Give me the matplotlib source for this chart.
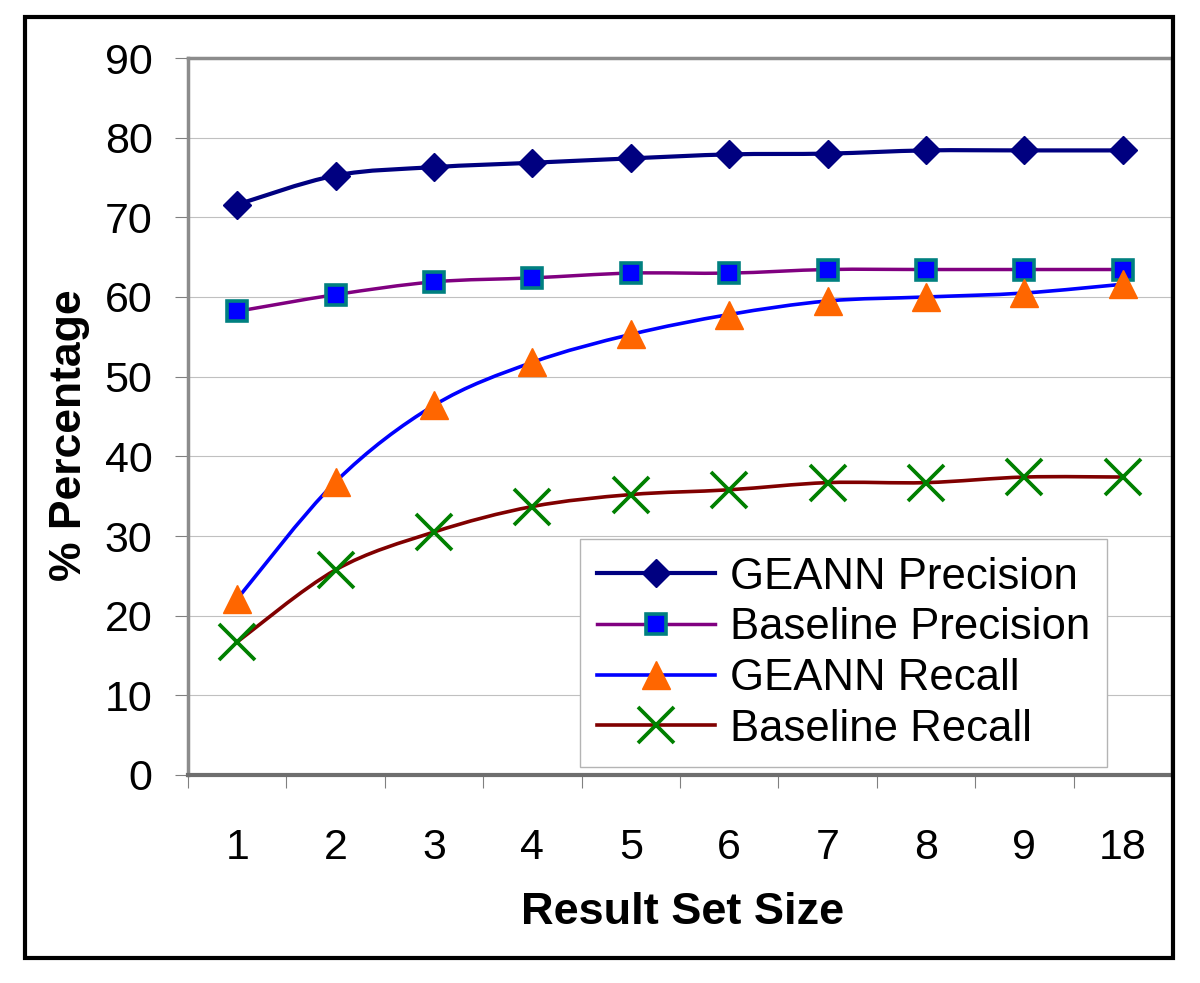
import numpy as np
import matplotlib

matplotlib.use("Agg")
import matplotlib.pyplot as plt
from matplotlib.lines import Line2D
from matplotlib.path import Path
from matplotlib.patches import PathPatch, Rectangle

plt.rcParams["font.family"] = ["Liberation Sans", "DejaVu Sans"]

# values
sizes = ["1", "2", "3", "4", "5", "6", "7", "8", "9", "18"]
geann_precision = [71.6, 75.25, 76.3, 76.85, 77.4, 77.9, 78.0, 78.4, 78.4, 78.4]
baseline_precision = [58.2, 60.3, 61.9, 62.4, 63.0, 63.0, 63.45, 63.45, 63.45, 63.45]
geann_recall = [22.1, 36.8, 46.4, 51.8, 55.3, 57.8, 59.5, 60.0, 60.5, 61.6]
baseline_recall = [16.7, 25.75, 30.5, 33.7, 35.2, 35.8, 36.7, 36.7, 37.4, 37.4]
y_ticks = [0, 10, 20, 30, 40, 50, 60, 70, 80, 90]


def smooth_path(xs, ys):
    # bezier through the points, like the "smoothed line" option of a spreadsheet chart
    p = np.column_stack([xs, ys]).astype(float)
    ext = np.vstack([p[0], p, p[-1]])
    verts = [p[0]]
    codes = [Path.MOVETO]
    for i in range(len(p) - 1):
        c1 = ext[i + 1] + (ext[i + 2] - ext[i]) / 6.0
        c2 = ext[i + 2] - (ext[i + 3] - ext[i + 1]) / 6.0
        verts += [c1, c2, p[i + 1]]
        codes += [Path.CURVE4] * 3
    return Path(verts, codes)


series = [
    ("GEANN Precision", geann_precision,
     dict(color="#000080", lw=3.0),
     dict(marker="D", ms=14.5, mfc="#000080", mec="#000080", mew=1)),
    ("Baseline Precision", baseline_precision,
     dict(color="#800080", lw=2.5),
     dict(marker="s", ms=15, mfc="#0000FF", mec="#008080", mew=2.6)),
    ("GEANN Recall", geann_recall,
     dict(color="#0000FF", lw=2.6),
     dict(marker="^", ms=20.5, mfc="#FF6600", mec="#FF6600", mew=1)),
    ("Baseline Recall", baseline_recall,
     dict(color="#800000", lw=2.6),
     dict(marker="x", ms=25.5, mfc="#008000", mec="#008000", mew=2.7)),
]

fig = plt.figure(figsize=(12, 9.83), dpi=100)
ax = fig.add_axes([188 / 1200, 1 - 775 / 983, 984 / 1200, 717 / 983])

x = np.arange(len(sizes))
handles = []
for name, vals, lstyle, mstyle in series:
    ax.add_patch(PathPatch(smooth_path(x, vals), fill=False, edgecolor=lstyle["color"],
                           lw=lstyle["lw"], capstyle="round", joinstyle="round", zorder=3))
    ax.plot(x, vals, linestyle="none", zorder=4, **mstyle)
    handles.append(Line2D([], [], color=lstyle["color"], lw=lstyle["lw"], **mstyle))

ax.set_xlim(-0.5, len(sizes) - 0.5)
ax.set_ylim(0, 90)
ax.set_yticks(y_ticks)
ax.set_xticks(x)
ax.set_xticklabels(sizes)
ax.set_xticks(np.arange(len(sizes) + 1) - 0.5, minor=True)
ax.grid(axis="y", color="#c0c0c0", lw=0.8)
ax.set_axisbelow(True)

ax.tick_params(axis="y", which="major", labelsize=31, length=9.5, width=0.8,
               color="#808080", pad=16)
ax.tick_params(axis="x", which="major", labelsize=31, length=0, pad=38)
ax.tick_params(axis="x", which="minor", length=9, width=0.8, color="#808080")

for side in ["left", "top", "right"]:
    ax.spines[side].set_color("#8c8c8c")
    ax.spines[side].set_linewidth(2.5)
ax.spines["bottom"].set_color("#6e6e6e")
ax.spines["bottom"].set_linewidth(3)

ax.set_xlabel("Result Set Size", fontsize=32.5, fontweight="bold")
ax.xaxis.set_label_coords(0.503, -0.163)
ax.set_ylabel("% Percentage", fontsize=32, fontweight="bold")
ax.yaxis.set_label_coords(-0.1, 0.474)

leg = ax.legend(handles, [s[0] for s in series], loc="lower left",
                bbox_to_anchor=(0.398, 0.011), borderaxespad=0, fontsize=31.5,
                frameon=True, fancybox=False, framealpha=1, edgecolor="#b4b4b4",
                handlelength=2.7, handletextpad=0.33, labelspacing=0.22,
                borderpad=0.4)
leg.get_frame().set_linewidth(1)
leg.set_zorder(10)

# black frame round the whole chart
fig.add_artist(Rectangle((25 / 1200, 1 - 958 / 983), 1148 / 1200, 941 / 983,
                         transform=fig.transFigure, fill=False, edgecolor="black",
                         lw=3, clip_on=False, zorder=20))

fig.savefig("out.png", dpi=100)
